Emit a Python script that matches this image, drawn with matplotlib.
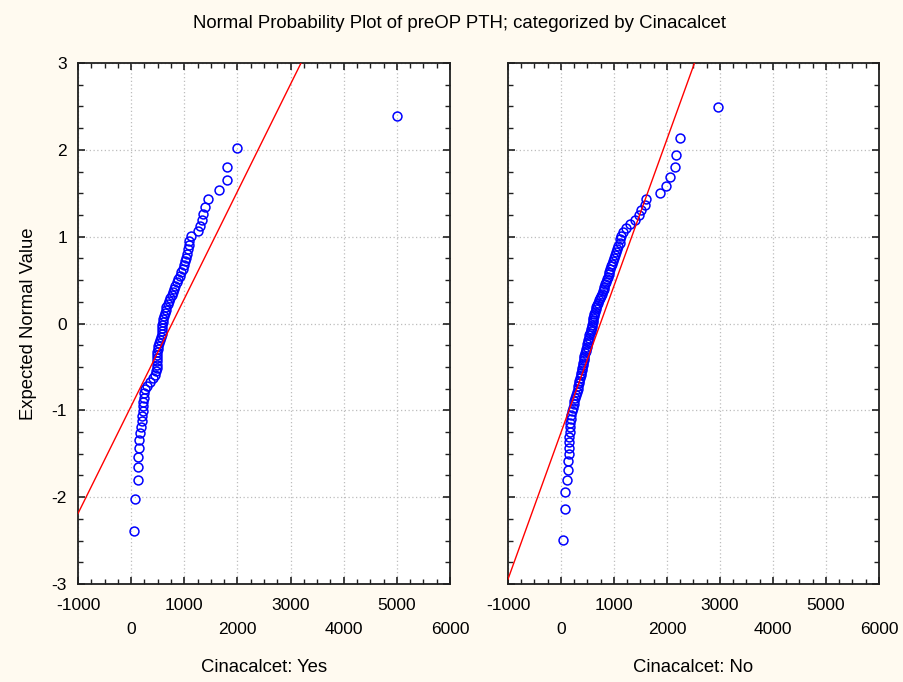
import matplotlib
matplotlib.use("Agg")
import matplotlib.pyplot as plt
from matplotlib.ticker import MultipleLocator, FixedLocator, FixedFormatter
from statistics import NormalDist

plt.rcParams['font.family'] = ['Liberation Sans', 'DejaVu Sans']
plt.rcParams['axes.unicode_minus'] = False

# ---- data ----
pth_yes = [55, 73, 124, 124, 137, 149, 152, 170, 180, 195, 208, 216, 222, 232, 241,
           246, 262, 294, 360, 420, 450, 465, 478, 481, 481, 483, 487, 493, 496, 500,
           520, 544, 560, 573, 580, 584, 590, 598, 608, 622, 637, 652, 665, 685, 710,
           735, 762, 785, 803, 830, 856, 875, 915, 940, 975, 995, 1012, 1030, 1050, 1066,
           1080, 1095, 1122, 1253, 1297, 1328, 1359, 1391, 1441, 1654, 1799, 1805, 1987, 5000]
pth_no = [47, 79, 80, 112, 136, 139, 146, 148, 154, 160, 166, 172, 176, 186, 196,
          206, 222, 238, 252, 272, 290, 303, 315, 326, 336, 348, 360, 372, 385, 396,
          404, 412, 420, 428, 436, 443, 453, 463, 473, 484, 495, 506, 517, 527, 537,
          547, 558, 570, 580, 588, 595, 602, 612, 622, 632, 642, 652, 662, 675, 690,
          726, 738, 750, 765, 785, 802, 818, 835, 853, 868, 882, 898, 915, 925, 947,
          965, 990, 1009, 1025, 1042, 1060, 1082, 1104, 1114, 1123, 1166, 1217, 1306, 1387, 1468,
          1513, 1594, 1608, 1872, 1985, 2066, 2160, 2173, 2236, 2960]
# fitted reference lines (centre, spread)
line_yes = (770, 809)
line_no = (743, 592)

groups = ["Cinacalcet: Yes", "Cinacalcet: No"]
title = "Normal Probability Plot of preOP PTH; categorized by Cinacalcet"
ylabel = "Expected Normal Value"
xticks = [-1000, 0, 1000, 2000, 3000, 4000, 5000, 6000]
yticks = [-3, -2, -1, 0, 1, 2, 3]


def normal_scores(vals):
    n = len(vals)
    nd = NormalDist()
    return [nd.inv_cdf((i - 0.375) / (n + 0.25)) for i in range(1, n + 1)]


W, H = 904, 682
fig = plt.figure(figsize=(W / 100, H / 100), dpi=100)
fig.patch.set_facecolor('#FFFAF0')

ax_pos = [(78, 450), (508, 879)]
top_px, bot_px = 63, 584
datasets = [(pth_yes, line_yes), (pth_no, line_no)]

fs = 12.5
fs_lab = 13.3
for k, ((x0, x1), (vals, (mu, sd)), grp) in enumerate(zip(ax_pos, datasets, groups)):
    ax = fig.add_axes([x0 / W, 1 - bot_px / H, (x1 - x0) / W, (bot_px - top_px) / H])
    ax.set_facecolor('white')
    xs = sorted(vals)
    zs = normal_scores(xs)
    ax.plot(xs, zs, linestyle='none', marker='o', ms=6.4, mfc='none',
            mec='#0000FF', mew=1.1, zorder=3, clip_on=False)
    ax.axline((mu, 0), slope=1 / sd, color='#FF0000', lw=1.0, zorder=4)
    ax.set_xlim(-1000, 6000)
    ax.set_ylim(-3, 3)
    ax.xaxis.set_major_locator(FixedLocator(xticks))
    labs = [str(t) if i % 2 == 0 else "\n" + str(t) for i, t in enumerate(xticks)]
    ax.xaxis.set_major_formatter(FixedFormatter(labs))
    ax.xaxis.set_minor_locator(MultipleLocator(250))
    ax.yaxis.set_major_locator(FixedLocator(yticks))
    ax.yaxis.set_minor_locator(MultipleLocator(0.25))
    ax.grid(True, which='major', color='#BDBDBD', linestyle=(0, (1, 2)), lw=0.9)
    ax.set_axisbelow(True)
    ax.tick_params(which='both', direction='in', top=True, right=True,
                   colors='#202020', labelcolor='black', labelsize=fs)
    ax.tick_params(which='major', length=5, width=1.2)
    ax.tick_params(which='minor', length=3.5, width=1.0)
    ax.tick_params(axis='x', pad=10)
    ax.tick_params(axis='y', pad=8)
    for lab in ax.get_xticklabels():
        lab.set_linespacing(1.73)
    if k == 1:
        ax.tick_params(axis='y', labelleft=False)
    for sp in ax.spines.values():
        sp.set_color('#202020')
        sp.set_linewidth(1.3)
    fig.text(((x0 + x1) / 2) / W, 1 - 667 / H, grp, ha='center', va='center',
             fontsize=fs_lab)

fig.text(0.5 * (192 + 727) / W, 1 - 23 / H, title, ha='center', va='center', fontsize=13.4)
fig.text(28.5 / W, 1 - 323.5 / H, ylabel, rotation=90, ha='center', va='center',
         fontsize=fs_lab)

fig.savefig('out.png', dpi=100, facecolor=fig.get_facecolor())
